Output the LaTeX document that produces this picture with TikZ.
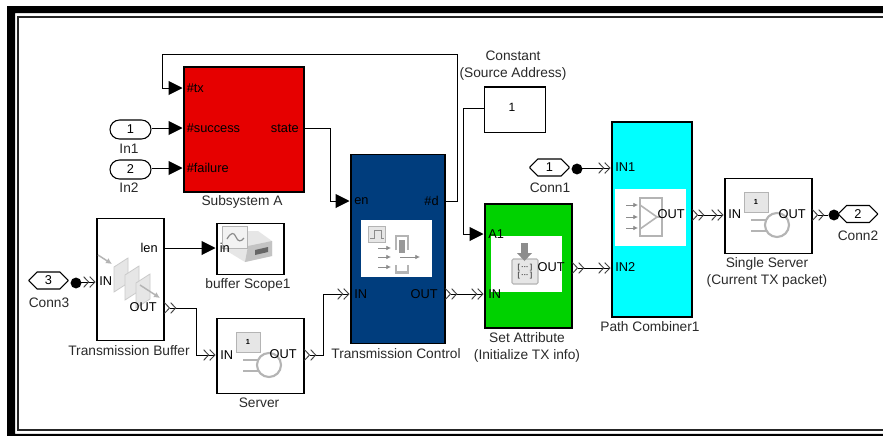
\documentclass[tikz,border=0pt]{standalone}
\usepackage{fontspec}
\setmainfont{Liberation Sans}
\usetikzlibrary{arrows.meta,shapes.misc,shapes.geometric,positioning}
\definecolor{lblgray}{HTML}{2A2A2A}
\definecolor{icon}{HTML}{B4B4B4}
\definecolor{iconlt}{HTML}{E6E6E6}
\definecolor{iconend}{HTML}{8C8C8C}
\definecolor{chevgray}{HTML}{444444}
\tikzset{
 x=0.75pt,y=-0.75pt,
 blockbox/.style={draw=black,line width=0.9pt,anchor=north west,inner sep=0pt,outer sep=0pt},
 lbl/.style={font=\fontsize{10.3}{12.75}\selectfont,text=lblgray,inner sep=0pt,align=center},
 port/.style={font=\fontsize{9.6}{11}\selectfont,text=black,inner sep=0pt},
 wire/.style={line width=0.75pt,black},
 sigtip/.style={-{Triangle[length=10.5pt,width=10.5pt]}},
 cin/.style={-{Straight Barb[length=3.8pt,width=8pt,line width=0.7pt,color=chevgray]Straight Barb[length=3.8pt,width=8pt,line width=0.7pt,color=chevgray]}},
 cboth/.style={{Straight Barb[reversed,length=3.8pt,width=8pt,line width=0.7pt,color=chevgray]Straight Barb[reversed,length=3.8pt,width=8pt,line width=0.7pt,color=chevgray]}-{Straight Barb[length=3.8pt,width=8pt,line width=0.7pt,color=chevgray]Straight Barb[length=3.8pt,width=8pt,line width=0.7pt,color=chevgray]}},
 cout/.style={{Straight Barb[reversed,length=3.8pt,width=8pt,line width=0.7pt,color=chevgray]Straight Barb[reversed,length=3.8pt,width=8pt,line width=0.7pt,color=chevgray]}-},
 pill/.style={draw=black,line width=0.8pt,rounded rectangle,minimum width=30.75pt,minimum height=14.25pt,inner sep=0pt,font=\fontsize{9.6}{11}\selectfont},
 conn/.style={draw=black,line width=0.8pt,chamfered rectangle,chamfered rectangle xsep=5pt,chamfered rectangle ysep=6.4pt,minimum width=29.25pt,minimum height=12.75pt,inner sep=0pt,font=\fontsize{9.6}{11}\selectfont},
 dot/.style={circle,fill=black,minimum size=8.2pt,inner sep=0pt},
 pic box/.style={fill=white,draw=none,anchor=north west,inner sep=0pt},
}
\begin{document}
\begin{tikzpicture}
\useasboundingbox (0,0) rectangle (883,436);
\fill[white] (0,0) rectangle (883,436);
% frame (open at the right, cut by the picture edge)
\fill[black] (883,6) -- (7,6) -- (7,436) -- (883,436) -- (883,433.8) -- (15,433.8) -- (15,13) -- (883,13) -- cycle;
\draw[line width=1.4pt,black!85] (883,16.7) -- (17.6,16.7) -- (17.6,429.6) -- (883,429.6);
% blocks
\node[blockbox,fill={rgb,255:red,230;green,0;blue,0},minimum width=90pt,minimum height=93.75pt] (sub) at (184,67) {};
\node[blockbox,fill=white,minimum width=50.25pt,minimum height=91.5pt] (buf) at (97,218.5) {};
\node[blockbox,fill=white,minimum width=50.25pt,minimum height=38.25pt] (scope) at (217,223.5) {};
\node[blockbox,fill=white,minimum width=65.25pt,minimum height=56.25pt] (srv) at (217,318.5) {};
\node[blockbox,fill={rgb,255:red,0;green,61;blue,125},minimum width=70.5pt,minimum height=141.75pt] (tc) at (351,154.5) {};
\node[blockbox,fill={rgb,255:red,0;green,210;blue,0},minimum width=65.25pt,minimum height=93pt] (sa) at (485,204) {};
\node[blockbox,fill=white,minimum width=45.75pt,minimum height=34pt] (const) at (484.5,87) {};
\node[blockbox,fill={rgb,255:red,0;green,255;blue,255},minimum width=60pt,minimum height=146.25pt] (pc) at (612,122) {};
\node[blockbox,fill=white,minimum width=65.25pt,minimum height=56.25pt] (ss) at (725,178.5) {};
\node[pic box,minimum width=53.25pt,minimum height=42.75pt] (tcw) at (361,220) {};
\node[pic box,minimum width=53.25pt,minimum height=42pt] (saw) at (491,236) {};
\node[pic box,minimum width=53.25pt,minimum height=42.75pt] (pcw) at (615,189) {};
% icon: transmission control
\draw[icon,fill=iconlt,line width=0.6pt] (368,226) rectangle (385,242);
\draw[iconend,line width=0.7pt] (370,238) -- (374,238) -- (374,230) -- (381,230) -- (381,238) -- (384,238);
\draw[icon,line width=1.6pt] (396,250) -- (396,236) -- (408,236) -- (408,250);
\fill[icon!85!black] (399,240) rectangle (405,253);
\draw[icon,line width=1.6pt] (396,265) -- (396,272.5) -- (408,272.5) -- (408,265);
\foreach \yy in {248,257,267}{\draw[iconend,line width=0.6pt,-{Latex[length=3.5pt,width=3.5pt]}] (378,\yy) -- (391,\yy);}
\draw[iconend,line width=0.6pt,-{Latex[length=3.5pt,width=3.5pt]}] (400,257) -- (420,257);
% icon: set attribute
\draw[icon,fill=iconlt,line width=0.8pt,rounded corners=1pt] (512,259) rectangle (538,284);
\fill[iconend] (521,243) rectangle (528,254);
\fill[iconend] (517,253) -- (532,253) -- (524.5,261) -- cycle;
\node[font=\bfseries\fontsize{5.5}{6}\selectfont,text=black!70,inner sep=0pt] (sa1) at (525,268) {[\,···\,]};
\node[font=\bfseries\fontsize{5.5}{6}\selectfont,text=black!70,inner sep=0pt] (sa2) at (525,276) {[\,···\,]};
% icon: path combiner
\draw[icon,line width=1.5pt] (640,198) rectangle (662,236);
\draw[icon,line width=1.2pt] (640,205) -- (657,217) -- (640,229);
\draw[icon,line width=1.2pt] (657,217) -- (662,217);
\foreach \yy in {205,217,228}{\draw[iconend,line width=0.6pt,-{Latex[length=3.5pt,width=3.5pt]}] (626,\yy) -- (638,\yy);}
% icons: servers
\foreach \ox/\oy in {725/178,217/318}{
\begin{scope}[shift={(\ox,\oy)}]
\draw[icon,fill=iconlt,line width=0.6pt] (19,14) rectangle (43,34);
\node[font=\bfseries\fontsize{5.5}{6}\selectfont,inner sep=0pt] at (31,24) {1};
\draw[icon,line width=1.6pt] (52,47) circle (12);
\draw[icon,line width=1.6pt] (26,42) -- (41,42) (26,53) -- (41,53);
\end{scope}}
% icon: buffer
\foreach \ii in {0,1,2}{
 \draw[icon!70,fill=iconlt,line width=0.6pt,shift={(\ii*11,\ii*8)}]
  (114,267) -- (128,258) -- (128,283) -- (114,292) -- cycle;
}
\draw[icon,line width=1.1pt,-{Latex[length=4.5pt,width=4.5pt]}] (98,255) -- (112,264);
\draw[icon,line width=1.1pt,-{Latex[length=4.5pt,width=4.5pt]}] (140,285) -- (160,298);
% icon: scope
\fill[iconlt] (222,248) -- (245,262) -- (272,256) -- (272,241) -- (258,231) -- (240,231) -- cycle;
\fill[icon!80] (245,262) -- (248,246) -- (272,241) -- (272,256) -- cycle;
\fill[black!60] (255,250) -- (268,247) -- (268,252) -- (255,255) -- cycle;
\draw[icon,fill=iconlt!50,line width=0.6pt] (222,226) rectangle (247,248);
\draw[iconend,line width=0.9pt] (227,239) .. controls (231,232) and (234,232) .. (236,237) .. controls (238,242) and (241,242) .. (244,238);
% port labels
\node[port,anchor=west] (p1) at (186.5,88) {\#tx};
\node[port,anchor=west] (p2) at (186.5,128) {\#success};
\node[port,anchor=west] (p3) at (186.5,168) {\#failure};
\node[port,anchor=east] (p4) at (299,128) {state};
\node[port,anchor=west] (p5) at (99,281) {IN};
\node[port,anchor=east] (p6) at (158,248) {len};
\node[port,anchor=east] (p7) at (157,307) {OUT};
\node[port,anchor=west] (p8) at (219.5,248) {in};
\node[port,anchor=west] (p9) at (220,355) {IN};
\node[port,anchor=east] (p10) at (297,354) {OUT};
\node[port,anchor=west] (p11) at (354,201) {en};
\node[port,anchor=east] (p12) at (439,201) {\#d};
\node[port,anchor=west] (p13) at (354,294) {IN};
\node[port,anchor=east] (p14) at (438,294) {OUT};
\node[port,anchor=west] (p15) at (488,234) {A1};
\node[port,anchor=west] (p16) at (488,294) {IN};
\node[port,anchor=east] (p17) at (565,267) {OUT};
\node[port,anchor=west] (p18) at (615,167) {IN1};
\node[port,anchor=west] (p19) at (615,267) {IN2};
\node[port,anchor=east] (p20) at (685,214) {OUT};
\node[port,anchor=west] (p21) at (728,214) {IN};
\node[port,anchor=east] (p22) at (806,214) {OUT};
\node[font=\fontsize{9}{10}\selectfont,inner sep=0pt] (cv) at (512,107) {1};
% sources
\node[pill] (in1) at (130.5,129.5) {1};
\node[pill] (in2) at (130.5,169.5) {2};
\node[conn] (c3) at (48.5,280.5) {3};
\node[conn] (c1) at (549.5,167.5) {1};
\node[conn] (c2) at (858,214) {2};
\node[dot] (d3) at (76,283) {};
\node[dot] (d1) at (577,169) {};
\node[dot] (d2) at (834,215) {};
% labels
\node[lbl] (l1) at (129,149) {In1};
\node[lbl] (l2) at (129,188) {In2};
\node[lbl] (l3) at (242,202) {Subsystem A};
\node[lbl] (l4) at (49,303) {Conn3};
\node[lbl] (l5) at (129,351) {Transmission Buffer};
\node[lbl] (l6) at (248,285) {buffer Scope1};
\node[lbl] (l7) at (259,403) {Server};
\node[lbl] (l8) at (396,354) {Transmission Control};
\node[lbl] (l9) at (527,347) {Set Attribute\\(Initialize TX info)};
\node[lbl] (l10) at (513,65.5) {Constant\\(Source Address)};
\node[lbl] (l11) at (550,188) {Conn1};
\node[lbl] (l12) at (650,327) {Path Combiner1};
\node[lbl] (l13) at (767,272) {Single Server\\(Current TX packet)};
\node[lbl] (l14) at (858,236) {Conn2};
% wire anchors
\coordinate (a1) at (182.5,88);
\coordinate (a2) at (182.5,128);
\coordinate (a3) at (182.5,168);
\coordinate (a4) at (349.5,201);
\coordinate (a6) at (483.5,234);
\coordinate (a7) at (215.5,248);
\coordinate (j1) at (457,54.5);
\coordinate (j2) at (162,54.5);
\coordinate (j3) at (463,108);
\coordinate (s1) at (196,308);
\coordinate (s2) at (323,355);
\coordinate (b1) at (215.5,355);
\coordinate (b2) at (349.5,294);
\coordinate (b3) at (610.5,268);
\coordinate (b4) at (723.5,215);
\coordinate (b5) at (95.5,282);
\coordinate (b6) at (610.5,168);
\coordinate (b7) at (483.5,294);
\draw[wire,sigtip] (tc.east |- a4) -| (j1) -- (j2) |- (a1);
\draw[wire,sigtip] (in1.east |- a2) -- (a2);
\draw[wire,sigtip] (in2.east |- a3) -- (a3);
\draw[wire,sigtip] (sub.east |- a2) -- (330,128) |- (a4);
\draw[wire,sigtip] (const.west |- j3) -- (j3) |- (a6);
\draw[wire,sigtip] (buf.east |- a7) -- (a7);
\draw[wire,cin] (d3 |- b5) -- (b5);
\draw[wire,cin] (d1 |- b6) -- (b6);
\draw[wire,cboth] (buf.east |- s1) -| (s1 |- b1) -- (b1);
\draw[wire,cboth] (srv.east |- b1) -| (s2 |- b2) -- (b2);
\draw[wire,cboth] (tc.east |- b2) -- (b7);
\draw[wire,cboth] (sa.east |- b3) -- (b3);
\draw[wire,cboth] (pc.east |- b4) -- (b4);
\draw[wire,cout] (ss.east |- d2) -- (d2);
\end{tikzpicture}
\end{document}
